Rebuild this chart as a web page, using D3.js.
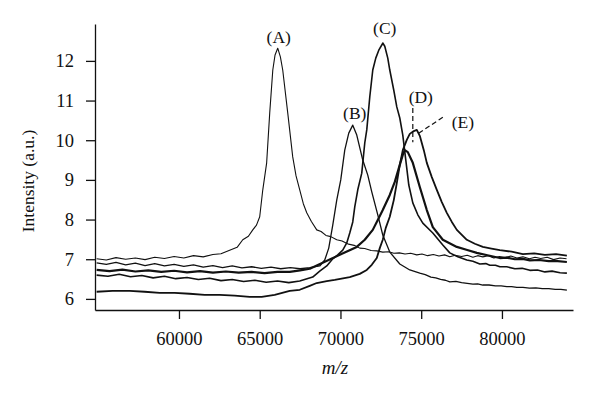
<!DOCTYPE html>
<html>
<head>
<meta charset="utf-8">
<script src="https://cdn.jsdelivr.net/npm/d3@7"></script>
<style>
  body { margin: 0; background: #fff; }
  text { font-family: "Liberation Serif", "DejaVu Serif", serif; fill: #111; }
</style>
</head>
<body>
<div id="chart"></div>
<script>
// spectra: [m/z, intensity]
var curveA = [[54900,7.01],[55500,6.98],[56100,7.04],[56700,7.00],[57300,7.03],[57900,6.99],[58500,7.05],[59100,7.02],[59700,7.07],[60300,7.03],[60900,7.09],[61500,7.06],[62100,7.12],[62600,7.14],[63100,7.22],[63600,7.30],[63950,7.49],[64300,7.58],[64570,7.74],[64800,7.86],[65000,8.07],[65190,8.75],[65430,9.43],[65620,10.69],[65810,11.77],[65950,12.15],[66115,12.32],[66280,12.10],[66425,11.77],[66735,10.69],[67044,9.58],[67250,9.10],[67478,8.75],[67700,8.40],[67912,8.17],[68200,7.95],[68531,7.74],[68800,7.70],[69100,7.60],[69400,7.57],[69770,7.49],[70100,7.46],[70500,7.38],[70850,7.35],[71195,7.28],[71500,7.27],[71900,7.22],[72250,7.21],[72620,7.18],[73000,7.19],[73300,7.15],[73650,7.16],[74000,7.13],[74350,7.15],[74727,7.11],[75050,7.13],[75400,7.09],[75750,7.12],[76100,7.08],[76450,7.11],[76772,7.06],[77100,7.10],[77500,7.07],[77850,7.10],[78200,7.05],[78500,7.09],[78817,7.06],[79150,7.09],[79500,7.03],[79850,7.07],[80200,7.04],[80550,7.08],[80923,7.03],[81300,7.06],[81700,7.01],[82050,7.05],[82400,7.02],[82800,7.05],[83200,6.99],[83600,7.03],[84000,7.01]];
var curveB = [[54900,6.91],[55500,6.87],[56100,6.92],[56700,6.86],[57300,6.90],[57900,6.84],[58500,6.89],[59100,6.83],[59700,6.87],[60300,6.82],[60900,6.86],[61500,6.80],[62100,6.84],[62700,6.79],[63300,6.83],[63900,6.78],[64500,6.81],[65100,6.77],[65700,6.80],[66300,6.76],[66900,6.79],[67500,6.76],[68100,6.79],[68717,6.83],[69027,6.98],[69275,7.28],[69523,7.86],[69770,8.49],[70018,9.00],[70266,9.75],[70514,10.18],[70762,10.38],[71010,10.13],[71381,9.50],[71691,9.12],[71939,8.70],[72311,8.12],[72620,7.61],[73054,7.18],[73674,6.88],[74294,6.73],[74913,6.65],[75250,6.61],[75600,6.55],[75900,6.53],[76200,6.49],[76500,6.47],[76772,6.43],[77150,6.44],[77500,6.41],[77850,6.39],[78200,6.37],[78500,6.38],[78817,6.35],[79200,6.35],[79600,6.33],[79950,6.33],[80300,6.31],[80600,6.31],[80923,6.29],[81300,6.29],[81700,6.27],[82100,6.28],[82500,6.26],[82900,6.26],[83300,6.24],[83650,6.24],[84021,6.22]];
var curveC = [[54900,6.60],[55600,6.57],[56300,6.62],[57000,6.56],[57700,6.59],[58400,6.53],[59100,6.57],[59800,6.51],[60500,6.54],[61200,6.49],[61900,6.52],[62600,6.46],[63300,6.49],[64000,6.44],[64700,6.47],[65400,6.42],[66100,6.45],[66800,6.41],[67478,6.45],[68283,6.55],[68717,6.70],[69151,6.83],[69523,7.01],[69833,7.11],[70142,7.23],[70390,7.41],[70576,7.66],[70762,7.94],[70886,8.32],[71072,8.75],[71319,9.17],[71505,9.93],[71629,10.26],[71815,11.09],[72001,11.77],[72187,12.07],[72373,12.27],[72559,12.40],[72620,12.45],[72744,12.37],[72930,12.07],[73054,11.77],[73302,11.26],[73488,10.84],[73674,10.56],[73860,10.13],[74046,9.50],[74232,8.87],[74480,8.42],[74790,8.12],[75099,7.91],[75719,7.66],[76338,7.36],[76772,7.16],[77268,7.06],[77825,6.98],[78200,6.95],[78631,6.88],[79000,6.89],[79250,6.85],[79600,6.85],[79870,6.81],[80300,6.81],[80800,6.76],[81250,6.77],[81729,6.72],[82200,6.73],[82658,6.68],[83100,6.70],[83600,6.66],[84021,6.65]];
var curveD = [[54900,6.73],[55700,6.70],[56500,6.74],[57300,6.69],[58100,6.72],[58900,6.68],[59700,6.71],[60500,6.67],[61300,6.70],[62100,6.66],[62900,6.69],[63700,6.66],[64500,6.68],[65300,6.65],[66100,6.68],[66860,6.68],[67500,6.72],[68100,6.76],[68900,6.91],[69956,7.11],[71010,7.31],[71505,7.49],[72001,7.74],[72311,7.99],[72620,8.24],[73054,8.62],[73364,8.95],[73674,9.38],[73860,9.63],[73984,9.75],[74170,9.70],[74480,9.43],[74913,8.82],[75347,8.24],[75719,7.81],[76338,7.49],[77206,7.31],[77800,7.24],[78445,7.16],[79100,7.10],[79870,7.03],[80300,7.04],[80800,7.00],[81300,7.01],[81729,6.97],[82300,6.98],[82900,6.95],[83450,6.95],[84021,6.93]];
var curveE = [[54900,6.18],[55890,6.20],[56945,6.20],[57875,6.18],[58803,6.15],[59733,6.15],[60662,6.13],[61592,6.10],[62521,6.10],[63451,6.08],[64380,6.05],[65124,6.05],[65929,6.10],[66858,6.20],[67478,6.23],[68097,6.33],[68531,6.40],[69151,6.45],[69647,6.48],[70576,6.55],[71195,6.63],[71629,6.73],[71939,6.86],[72249,7.03],[72435,7.28],[72620,7.49],[72806,7.79],[73054,8.07],[73302,8.49],[73488,8.92],[73674,9.38],[73860,9.75],[74108,10.01],[74294,10.16],[74542,10.23],[74727,10.26],[74913,10.11],[75161,9.75],[75347,9.43],[75657,9.07],[75966,8.75],[76276,8.44],[76586,8.17],[76896,7.94],[77206,7.74],[77825,7.49],[78321,7.39],[78817,7.31],[79350,7.27],[79870,7.23],[80600,7.19],[81295,7.13],[82000,7.15],[82658,7.11],[83350,7.13],[84021,7.09]];

var series = [
    {name: "A", values: curveA, width: 1.1},
    {name: "B", values: curveB, width: 1.3},
    {name: "C", values: curveC, width: 1.6},
    {name: "D", values: curveD, width: 2.2},
    {name: "E", values: curveE, width: 1.8}
];

var xTicks = [60000, 65000, 70000, 75000, 80000];
var yTicks = [6, 7, 8, 9, 10, 11, 12];

// peak labels and pointer lines, in data units
var peakLabels = [
    {text: "(A)", m: 66177, v: 12.60},
    {text: "(B)", m: 70886, v: 10.69},
    {text: "(C)", m: 72744, v: 12.83},
    {text: "(D)", m: 74975, v: 11.09},
    {text: "(E)", m: 77577, v: 10.46}
];
var pointers = [
    {m1: 74480, v1: 10.81, m2: 74480, v2: 9.95},
    {m1: 76339, v1: 10.58, m2: 74790, v2: 10.16}
];

var width = 589, height = 393;
var margin = {left: 95, right: 16, top: 24, bottom: 83};

var svg = d3.select("#chart").append("svg")
    .attr("width", width)
    .attr("height", height);

var x = d3.scaleLinear()
    .domain([54800, 84400])
    .range([margin.left, width - margin.right]);

var y = d3.scaleLinear()
    .domain([5.72, 12.93])
    .range([height - margin.bottom, margin.top]);

// axes
var xAxis = svg.append("g")
    .attr("transform", "translate(0," + (height - margin.bottom) + ")")
    .call(d3.axisBottom(x).tickValues(xTicks).tickFormat(d3.format("d"))
        .tickSize(9).tickSizeOuter(0).tickPadding(13));

var yAxis = svg.append("g")
    .attr("transform", "translate(" + margin.left + ",0)")
    .call(d3.axisLeft(y).tickValues(yTicks).tickSize(9).tickSizeOuter(0).tickPadding(6));

svg.selectAll(".domain, .tick line").attr("stroke", "#111").attr("stroke-width", 1.3);
svg.selectAll(".tick text")
    .style("font-family", "'Liberation Serif', serif")
    .style("font-size", "18.5px")
    .attr("fill", "#111");
yAxis.selectAll(".tick text").attr("x", -21);

// axis titles
svg.append("text")
    .attr("transform", "translate(28," + ((margin.top + height - margin.bottom) / 2 + 14) + ") rotate(-90)")
    .attr("text-anchor", "middle")
    .attr("dy", "0.35em")
    .style("font-size", "17.5px")
    .text("Intensity (a.u.)");

svg.append("text")
    .attr("x", 335)
    .attr("y", 374)
    .attr("text-anchor", "middle")
    .style("font-size", "19px")
    .style("font-style", "italic")
    .text("m/z");

// spectra
var line = d3.line()
    .x(d => x(d[0]))
    .y(d => y(d[1]));

svg.selectAll(".spectrum")
    .data(series)
    .enter().append("path")
    .attr("class", "spectrum")
    .attr("d", d => line(d.values))
    .attr("fill", "none")
    .attr("stroke", "#111")
    .attr("stroke-width", d => d.width)
    .attr("stroke-linejoin", "round");

// peak annotations
svg.selectAll(".pointer")
    .data(pointers)
    .enter().append("line")
    .attr("class", "pointer")
    .attr("x1", d => x(d.m1))
    .attr("y1", d => y(d.v1))
    .attr("x2", d => x(d.m2))
    .attr("y2", d => y(d.v2))
    .attr("stroke", "#111")
    .attr("stroke-width", 1.2)
    .attr("stroke-dasharray", "5,3");

svg.selectAll(".peak-label")
    .data(peakLabels)
    .enter().append("text")
    .attr("class", "peak-label")
    .attr("x", d => x(d.m))
    .attr("y", d => y(d.v))
    .attr("dy", "0.35em")
    .attr("text-anchor", "middle")
    .style("font-size", "17.5px")
    .text(d => d.text);
</script>
</body>
</html>
